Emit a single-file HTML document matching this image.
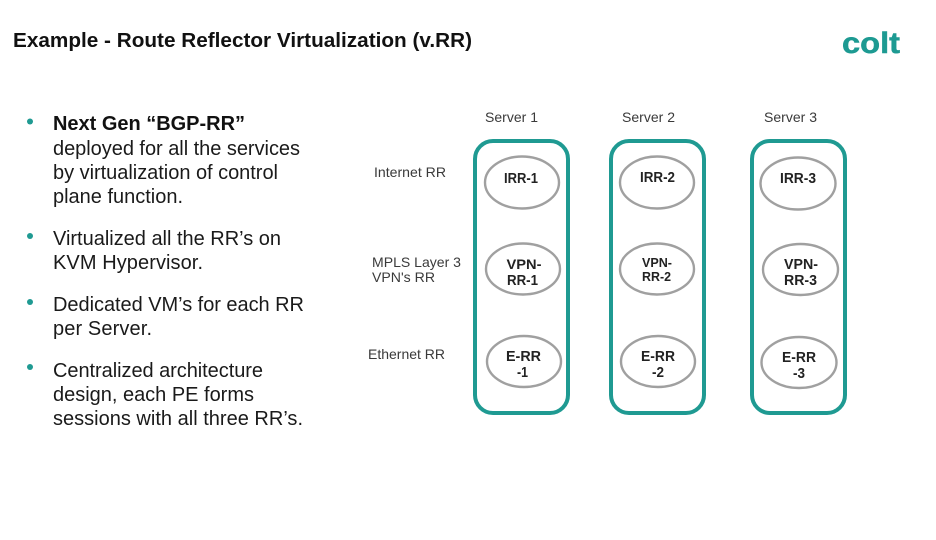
<!DOCTYPE html>
<html lang="en">
<head>
<meta charset="utf-8">
<title>Route Reflector Virtualization</title>
<style>
html,body{margin:0;padding:0;background:#fff;width:936px;height:540px;overflow:hidden}
svg{display:block}
text{font-family:"Liberation Sans",Arial,sans-serif}
.t{font-size:20px;font-weight:700;fill:#111}
.b{font-size:20px;fill:#1a1a1a}
.bb{font-size:20px;fill:#111;font-weight:700}
.l{font-size:14px;fill:#3a3a3a}
.n{font-size:14.5px;font-weight:700;fill:#222}
.s{font-size:12.5px;font-weight:700;fill:#222}
.box{fill:#fff;stroke:#1f9a92;stroke-width:4}
.e{fill:#fff;stroke:#a0a0a0;stroke-width:2.4}
</style>
</head>
<body>
<svg width="936" height="540" viewBox="0 0 936 540" xmlns="http://www.w3.org/2000/svg">
<text class="t" x="13" y="47" textLength="459" lengthAdjust="spacingAndGlyphs">Example - Route Reflector Virtualization (v.RR)</text>
<text x="842" y="53" textLength="58" lengthAdjust="spacingAndGlyphs" style="font-size:30px;font-weight:700;fill:#1d9a92;stroke:#1d9a92;stroke-width:.5">colt</text>

<g fill="#1f9a92">
<circle cx="30" cy="121.5" r="3"/>
<circle cx="30" cy="236" r="3"/>
<circle cx="30" cy="302" r="3"/>
<circle cx="30" cy="367" r="3"/>
</g>
<text class="bb" x="53" y="130" textLength="192" lengthAdjust="spacing">Next Gen “BGP-RR”</text>
<text class="b" x="53" y="155" textLength="247" lengthAdjust="spacing">deployed for all the services</text>
<text class="b" x="53" y="179" textLength="225" lengthAdjust="spacing">by virtualization of control</text>
<text class="b" x="53" y="203" textLength="130" lengthAdjust="spacing">plane function.</text>
<text class="b" x="53" y="245" textLength="228" lengthAdjust="spacing">Virtualized all the RR’s on</text>
<text class="b" x="53" y="269" textLength="150" lengthAdjust="spacing">KVM Hypervisor.</text>
<text class="b" x="53" y="311" textLength="251" lengthAdjust="spacing">Dedicated VM’s for each RR</text>
<text class="b" x="53" y="335" textLength="99" lengthAdjust="spacing">per Server.</text>
<text class="b" x="53" y="377" textLength="210" lengthAdjust="spacing">Centralized architecture</text>
<text class="b" x="53" y="401" textLength="201" lengthAdjust="spacing">design, each PE forms</text>
<text class="b" x="53" y="425" textLength="250" lengthAdjust="spacing">sessions with all three RR’s.</text>

<text class="l" x="485" y="122" textLength="53" lengthAdjust="spacingAndGlyphs">Server 1</text>
<text class="l" x="622" y="122" textLength="53" lengthAdjust="spacingAndGlyphs">Server 2</text>
<text class="l" x="764" y="122" textLength="53" lengthAdjust="spacingAndGlyphs">Server 3</text>
<text class="l" x="374" y="177" textLength="72" lengthAdjust="spacingAndGlyphs">Internet RR</text>
<text class="l" x="372" y="267" textLength="89" lengthAdjust="spacingAndGlyphs">MPLS Layer 3</text>
<text class="l" x="372" y="282" textLength="63" lengthAdjust="spacingAndGlyphs">VPN's RR</text>
<text class="l" x="368" y="359" textLength="77" lengthAdjust="spacingAndGlyphs">Ethernet RR</text>

<rect class="box" x="475" y="141" width="93" height="272" rx="18"/>
<rect class="box" x="611" y="141" width="93" height="272" rx="18"/>
<rect class="box" x="752" y="141" width="93" height="272" rx="18"/>

<ellipse class="e" cx="522" cy="182.5" rx="37" ry="26"/>
<ellipse class="e" cx="523" cy="269" rx="37" ry="25.5"/>
<ellipse class="e" cx="524" cy="361.5" rx="37" ry="25.5"/>
<ellipse class="e" cx="657" cy="182.5" rx="37" ry="26"/>
<ellipse class="e" cx="657" cy="269" rx="37" ry="25.5"/>
<ellipse class="e" cx="658" cy="361.5" rx="37" ry="25.5"/>
<ellipse class="e" cx="798" cy="183.5" rx="37.5" ry="26"/>
<ellipse class="e" cx="800.5" cy="269.5" rx="37.5" ry="25.5"/>
<ellipse class="e" cx="799" cy="362.5" rx="37.5" ry="25.5"/>

<text class="n" x="504" y="183" textLength="34" lengthAdjust="spacingAndGlyphs">IRR-1</text>
<text class="n" x="506.5" y="269" style="font-size:14px" textLength="35" lengthAdjust="spacingAndGlyphs">VPN-</text>
<text class="n" x="507" y="285" textLength="31" lengthAdjust="spacingAndGlyphs">RR-1</text>
<text class="n" x="506" y="361" textLength="35" lengthAdjust="spacingAndGlyphs">E-RR</text>
<text class="n" x="517" y="377" textLength="11" lengthAdjust="spacingAndGlyphs">-1</text>

<text class="n" x="640" y="182" textLength="35" lengthAdjust="spacingAndGlyphs">IRR-2</text>
<text class="s" x="642" y="267" textLength="30" lengthAdjust="spacingAndGlyphs">VPN-</text>
<text class="s" x="642" y="281" textLength="29" lengthAdjust="spacingAndGlyphs">RR-2</text>
<text class="n" x="641" y="361" textLength="34" lengthAdjust="spacingAndGlyphs">E-RR</text>
<text class="n" x="652" y="377" textLength="12" lengthAdjust="spacingAndGlyphs">-2</text>

<text class="n" x="780" y="183" textLength="36" lengthAdjust="spacingAndGlyphs">IRR-3</text>
<text class="n" x="784" y="269" textLength="34" lengthAdjust="spacingAndGlyphs">VPN-</text>
<text class="n" x="784" y="285" textLength="33" lengthAdjust="spacingAndGlyphs">RR-3</text>
<text class="n" x="782" y="362" textLength="34" lengthAdjust="spacingAndGlyphs">E-RR</text>
<text class="n" x="793" y="378" textLength="12" lengthAdjust="spacingAndGlyphs">-3</text>
</svg>
</body>
</html>
